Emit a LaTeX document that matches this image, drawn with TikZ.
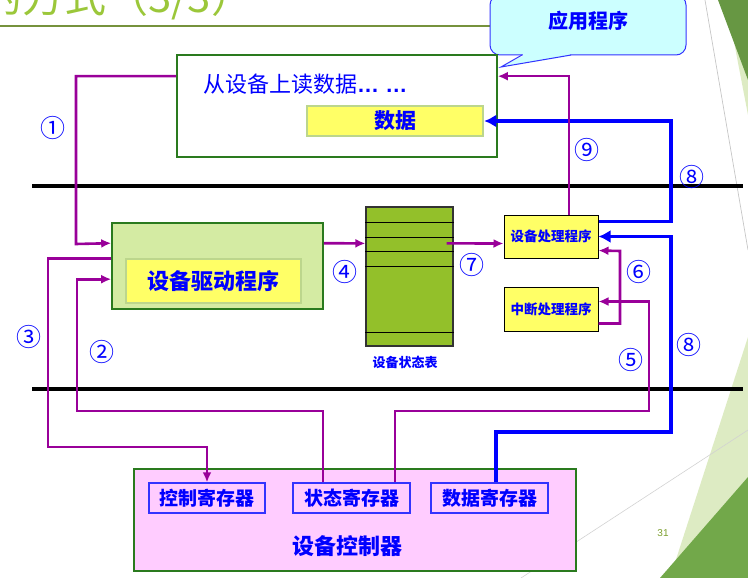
\documentclass[tikz,border=0pt]{standalone}
\usepackage{fontspec}
\setmainfont{Liberation Sans}
\newfontfamily\cjk{Noto Sans CJK SC}
\usetikzlibrary{arrows.meta}
\definecolor{boxgreen}{HTML}{2A7A1E}
\definecolor{drvgreen}{HTML}{D4EBA3}
\definecolor{hiyellow}{HTML}{FFFF66}
\definecolor{softgreen}{HTML}{BCD68C}
\definecolor{tablegreen}{HTML}{93C02A}
\definecolor{pinkfill}{HTML}{FFCCFF}
\definecolor{cyanfill}{HTML}{CCFFFF}
\definecolor{edgeblue}{HTML}{3333FF}
\definecolor{pathpurple}{HTML}{990099}
\definecolor{titlegreen}{HTML}{9BC73A}
\definecolor{rulegreen}{HTML}{76923C}
\definecolor{decodark}{HTML}{72A84A}
\definecolor{decolight}{HTML}{DDEBC3}
\tikzset{
  every node/.style={inner sep=0pt, font=\cjk},
  greenbox/.style={draw=boxgreen, line width=1.6pt},
  appbox/.style={greenbox, fill=white},
  drvbox/.style={greenbox, fill=drvgreen},
  innerbox/.style={fill=hiyellow, draw=softgreen, line width=2.5pt, text=blue,
    font=\cjk\bfseries\fontsize{21}{21}\selectfont},
  handler/.style={fill=hiyellow, draw=black, line width=1pt, text=blue,
    minimum width=94pt, font=\cjk\bfseries\fontsize{13.5}{14}\selectfont},
  regbox/.style={fill=pinkfill, draw=edgeblue, line width=1.4pt, text=blue,
    minimum width=117pt, minimum height=30pt, font=\cjk\bfseries\fontsize{19}{19}\selectfont},
  calloutbox/.style={fill=cyanfill, draw=edgeblue, line width=1pt, rounded corners=10pt},
  pline/.style={draw=pathpurple, line width=2.6pt, -{Latex[length=10pt,width=9pt]}},
  bline/.style={draw=blue, line width=3.8pt, -{Latex[length=12pt,width=13pt]}},
  num/.style={text=blue, font=\cjk\fontsize{25}{25}\selectfont},
  sepline/.style={line width=3.5pt, black}
}
\begin{document}
\begin{tikzpicture}[x=1pt,y=-1pt]
\useasboundingbox (0,0) rectangle (748,578);
% slide decorations
\fill[decolight] (726,0) -- (748,0) -- (748,115) -- cycle;
\fill[decodark!90!black] (718,0) -- (748,0) -- (748,80) -- cycle;
\draw[gray!45, line width=0.7pt] (705,0) -- (748,250);
\fill[decolight] (670,578) -- (748,337) -- (748,578) -- cycle;
\fill[decodark] (660,578) -- (748,477) -- (748,578) -- cycle;
\draw[gray!35, line width=0.6pt] (521,578) -- (748,430);
\node[text=titlegreen!80!black, font=\fontsize{10}{10}\selectfont] (pageno) at (663,533) {31};
% title
\begin{scope}
\clip (0,0) rectangle (748,578);
\node[anchor=base west, text=titlegreen, font=\cjk\fontsize{42}{42}\selectfont] (title) at (-20,13) {的方式（3/3）};
\end{scope}
\draw[line width=2.5pt, rulegreen] (0,26) -- (490,26);
% callout
\node[calloutbox, minimum width=196pt, minimum height=60pt] (appcall) at (588,25) {};
\fill[cyanfill] (523,53) -- (523,56) -- (501,67) -- (570,56) -- (570,53) -- cycle;
\draw[edgeblue, line width=1pt] (522,55) -- (501,67) -- (571,55);
\node[text=blue, font=\cjk\bfseries\fontsize{20}{20}\selectfont] (apptxt) at (588,21) {应用程序};
% user space
\node[appbox, minimum width=320pt, minimum height=102pt] (app) at (337,106) {};
\node[anchor=west, text=blue, font=\cjk\fontsize{22}{22}\selectfont] (readtxt) at (203,84) {从设备上读数据{\rmfamily\bfseries… …}};
\node[innerbox, minimum width=176pt, minimum height=30pt] (databox) at (395,121) {数据};
% separators
\draw[sepline] (32,186) -- (743,186);
\draw[sepline] (32,389) -- (743,389);
% kernel
\node[drvbox, minimum width=211pt, minimum height=86pt] (driver) at (217.5,266) {};
\node[innerbox, minimum width=175pt, minimum height=44pt, font=\cjk\bfseries\fontsize{22}{22}\selectfont] (drvname) at (213.5,281) {设备驱动程序};
\node[fill=tablegreen, draw=black!80, line width=1.2pt, minimum width=87pt, minimum height=139pt] (table) at (409.5,276.5) {};
\foreach \y in {222,237,251,266,332}
  \draw[black, line width=1pt] (table.west |- 0,\y) -- (table.east |- 0,\y);
\node[text=blue, font=\cjk\bfseries\fontsize{13}{13}\selectfont] (tablename) at (405,362) {设备状态表};
\node[handler, minimum height=43pt] (devh) at (551,236.5) {设备处理程序};
\node[handler, minimum height=44pt] (inth) at (551,309) {中断处理程序};
% controller
\node[fill=pinkfill, greenbox, minimum width=442pt, minimum height=102pt] (ctrl) at (355,520) {};
\node[regbox, minimum width=116pt] (creg) at (207,498) {控制寄存器};
\node[regbox] (sreg) at (351.5,498) {状态寄存器};
\node[regbox] (dreg) at (489.5,498) {数据寄存器};
\node[text=blue, font=\cjk\bfseries\fontsize{22}{22}\selectfont] (ctrlname) at (347,546) {设备控制器};
% connectors
\draw[pline] ([yshift=-22pt]app.north west) -| (76,244) -- ([yshift=-21pt]driver.north west);
\draw[pline] ([xshift=-28.5pt]sreg.north) |- (77,411) |- ([yshift=-57pt]driver.north west);
\draw[pline] ([yshift=-36pt]driver.north west) -| (48,447) -| (creg.north);
\draw[pline] ([yshift=-21pt]driver.north east) -- ([yshift=-37pt]table.north west);
\draw[pline] ([xshift=43.5pt]sreg.north) |- (649,411) |- ([yshift=-15pt]inth.north east);
\draw[pline] ([yshift=-37pt]inth.north east) -| (620,251) -- ([yshift=-36pt]devh.north east);
\draw[pline] ([xshift=-7pt,yshift=-37pt]table.north east) -- ([yshift=-29pt]devh.north west);
\draw[bline] ([xshift=6.5pt]dreg.north) |- (671,432) |- ([yshift=-22pt]devh.north east);
\draw[bline] ([yshift=-7pt]devh.north east) -| (671,121) -- (databox.east);
\draw[pline] ([xshift=18pt]devh.north) |- ([yshift=-22pt]app.north east);
% step numbers
\node[num] (n1) at (53,128) {①};
\node[num] (n2) at (102,352) {②};
\node[num] (n3) at (29,337) {③};
\node[num] (n4) at (345,272) {④};
\node[num] (n5) at (631,360) {⑤};
\node[num] (n6) at (639,272) {⑥};
\node[num] (n7) at (472,265) {⑦};
\node[num] (n8a) at (692,177) {⑧};
\node[num] (n8b) at (689,345) {⑧};
\node[num] (n9) at (587,150) {⑨};
\end{tikzpicture}
\end{document}
